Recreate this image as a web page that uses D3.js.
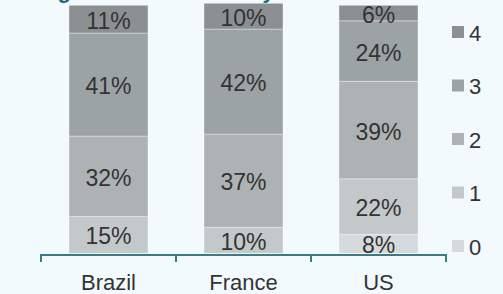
<!DOCTYPE html>
<html><head><meta charset="utf-8">
<script src="https://cdn.jsdelivr.net/npm/d3@7"></script>
<style>html,body{margin:0;padding:0;background:#f3fafd;}svg{display:block;}</style>
</head><body><svg id="c" width="503" height="294"></svg>
<script>
const categories = ["Brazil", "France", "US"];
const levels = ["0", "1", "2", "3", "4"];
const level0 = [0, 0, 7.6];
const level1 = [14.7, 10.4, 22.2];
const level2 = [32.2, 37.3, 39.0];
const level3 = [41.2, 42.0, 24.2];
const level4 = [11.1, 10.3, 6.2];
const colors = ["#d6dadc", "#c3c9ca", "#adb3b4", "#9ca3a4", "#8b9192"];
const titleText = "Rating distribution survey";

const series = [level0, level1, level2, level3, level4];
const rows = categories.map((c, i) => {
  const r = {cat: c};
  levels.forEach((l, j) => r[l] = series[j][i]);
  return r;
});
const stack = d3.stack().keys(levels)(rows);

const svg = d3.select("#c");
const font = "'Liberation Sans', Arial, sans-serif";
const x = d3.scaleBand().domain(categories).range([41, 446]).paddingInner(0.415).paddingOuter(0.2075);
const y = d3.scaleLinear().domain([0, 100]).range([253.3, 3.3]);

// clipped title (only descenders visible, as in reference)
svg.append("text").attr("x", 4).attr("y", -2).attr("fill", "#1d6e7e")
  .attr("font-family", font).attr("font-size", 22).attr("font-weight", "bold").attr("font-style", "italic")
  .text(titleText);

const g = svg.append("g");
stack.forEach((s, j) => {
  g.selectAll(null).data(s.filter(d => d[1] - d[0] > 0)).enter().append("rect")
    .attr("x", d => x(d.data.cat)).attr("width", x.bandwidth())
    .attr("y", d => y(d[1])).attr("height", d => y(d[0]) - y(d[1]))
    .attr("fill", colors[j]).attr("stroke", "rgba(255,255,255,0.35)").attr("stroke-width", 1);
  g.selectAll(null).data(s.filter(d => d[1] - d[0] > 0)).enter().append("text")
    .attr("x", d => x(d.data.cat) + x.bandwidth() / 2)
    .attr("y", d => (y(d[0]) + y(d[1])) / 2 + 1.5)
    .attr("dy", "0.35em").attr("text-anchor", "middle")
    .attr("font-family", font).attr("font-size", 23).attr("fill", "#333")
    .text(d => Math.round(d[1] - d[0]) + "%");
});

// axis
const ax = svg.append("g");
const r0 = x.range()[0], step = x.step();
ax.append("line").attr("x1", r0).attr("x2", x.range()[1]).attr("y1", 255).attr("y2", 255)
  .attr("stroke", "#3a7b86").attr("stroke-width", 2);
d3.range(categories.length + 1).forEach(i => {
  ax.append("line").attr("x1", r0 + i * step).attr("x2", r0 + i * step).attr("y1", 254).attr("y2", 262)
    .attr("stroke", "#3a7b86").attr("stroke-width", 2);
});
ax.selectAll(null).data(categories).enter().append("text")
  .attr("x", d => x(d) + x.bandwidth() / 2).attr("y", 290)
  .attr("text-anchor", "middle").attr("font-family", font).attr("font-size", 22).attr("fill", "#333")
  .text(d => d);

// legend
const lg = svg.append("g");
const ly = d3.scalePoint().domain(levels.slice().reverse()).range([32, 246]);
levels.forEach((l, j) => {
  lg.append("rect").attr("x", 452).attr("y", ly(l) - 6).attr("width", 12).attr("height", 12).attr("fill", colors[j]);
  lg.append("text").attr("x", 469).attr("y", ly(l) + 1).attr("dy", "0.35em")
    .attr("font-family", font).attr("font-size", 22).attr("fill", "#333").text(l);
});
</script></body></html>
